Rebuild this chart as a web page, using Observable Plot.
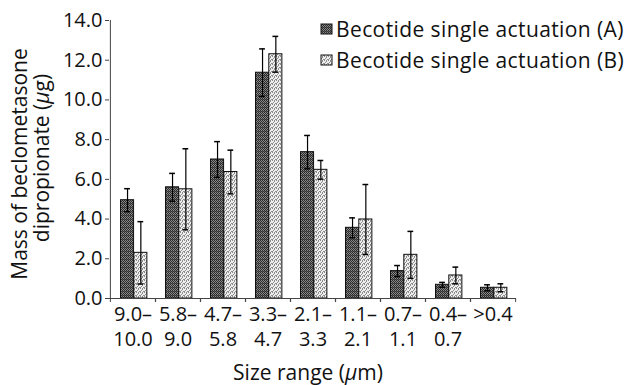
<!DOCTYPE html>
<html>
<head>
<meta charset="utf-8">
<script src="https://cdn.jsdelivr.net/npm/d3@7"></script>
<script src="https://cdn.jsdelivr.net/npm/@observablehq/plot@0.6"></script>
<style>
  html, body { margin: 0; padding: 0; background: #fff; }
  #chart { position: relative; width: 624px; height: 385px; font-family: "Open Sans", sans-serif; }
</style>
</head>
<body>
<div id="chart"></div>
<script>
// ---- data ----
const groups = ["9.0–10.0", "5.8–9.0", "4.7–5.8", "3.3–4.7", "2.1–3.3", "1.1–2.1", "0.7–1.1", "0.4–0.7", ">0.4"];
const tickTop = ["9.0–", "5.8–", "4.7–", "3.3–", "2.1–", "1.1–", "0.7–", "0.4–", ">0.4"];
const tickBottom = ["10.0", "9.0", "5.8", "4.7", "3.3", "2.1", "1.1", "0.7", ""];
const seriesNames = ["Becotide single actuation (A)", "Becotide single actuation (B)"];
const valuesA = [4.95, 5.6, 7.0, 11.37, 7.37, 3.56, 1.38, 0.69, 0.54];
const errA    = [0.58, 0.7, 0.9, 1.2, 0.84, 0.5, 0.28, 0.12, 0.15];
const valuesB = [2.3, 5.5, 6.37, 12.3, 6.48, 3.98, 2.2, 1.16, 0.54];
const errB    = [1.57, 2.04, 1.1, 0.9, 0.47, 1.76, 1.18, 0.42, 0.2];
const yTicks = [0, 2, 4, 6, 8, 10, 12, 14];

// ---- layout ----
const W = 624, H = 385;
const mL = 109, mR = 108, mT = 20, mB = 87;
const bw = (W - mL - mR) / groups.length;   // band width
const barW = 13.3, offA = 10.5;              // bar width and left offset within band
const cap = 3;

const dataA = groups.map((g, i) => ({group: g, v: valuesA[i], e: errA[i]}));
const dataB = groups.map((g, i) => ({group: g, v: valuesB[i], e: errB[i]}));

const dxA = offA + barW / 2 - bw / 2;
const dxB = offA + barW * 1.5 - bw / 2;

function errMarks(data, dx) {
  return [
    Plot.ruleX(data, {x: "group", y1: d => d.v - d.e, y2: d => d.v + d.e, dx, stroke: "black", strokeWidth: 1.2}),
    Plot.tickY(data, {x: "group", y: d => d.v + d.e, dx, insetLeft: bw / 2 - cap, insetRight: bw / 2 - cap, stroke: "black", strokeWidth: 1.5}),
    Plot.tickY(data, {x: "group", y: d => d.v - d.e, dx, insetLeft: bw / 2 - cap, insetRight: bw / 2 - cap, stroke: "black", strokeWidth: 1.5})
  ];
}

const labelMap = new Map(groups.map((g, i) => [g, tickBottom[i] ? tickTop[i] + "\n" + tickBottom[i] : tickTop[i]]));

const svg = Plot.plot({
  width: W, height: H,
  marginLeft: mL, marginRight: mR, marginTop: mT, marginBottom: mB,
  style: {fontFamily: "Open Sans", fontSize: "20px", color: "#111", background: "white"},
  x: {domain: groups, padding: 0, axis: null},
  y: {domain: [0, 14], axis: null},
  marks: [
    Plot.barY(dataA, {x: "group", y: "v", fill: "url(#patA)", stroke: "#111", strokeWidth: 1,
      insetLeft: offA, insetRight: bw - offA - barW}),
    Plot.barY(dataB, {x: "group", y: "v", fill: "url(#patB)", stroke: "#111", strokeWidth: 1,
      insetLeft: offA + barW, insetRight: bw - offA - 2 * barW}),
    ...errMarks(dataA, dxA),
    ...errMarks(dataB, dxB),
    Plot.ruleY([0], {stroke: "#444", strokeWidth: 1}),
    Plot.ruleX([groups[0]], {x: d => d, dx: -bw / 2, stroke: "#444", strokeWidth: 1}),
    Plot.axisY({ticks: yTicks, tickFormat: d => d.toFixed(1), tickSize: 4, tickPadding: 3, fontSize: 20, label: null, stroke: "#444"}),
    Plot.axisX({ticks: groups, tickFormat: () => "", tickSize: 4, dx: -bw / 2, label: null, stroke: "#444"}),
    Plot.axisX({ticks: groups, tickFormat: () => "", tickSize: 4, dx: bw / 2, label: null, stroke: "#444"}),
    Plot.axisX({ticks: groups, tickFormat: d => labelMap.get(d), tickSize: 0, tickPadding: 4, lineHeight: 1.275, fontSize: 20, label: null})
  ]
});

const s = d3.select(svg);
const defs = s.insert("defs", ":first-child");
// dark texture for series A
const pA = defs.append("pattern").attr("id", "patA").attr("patternUnits", "userSpaceOnUse").attr("width", 4).attr("height", 4);
pA.append("rect").attr("width", 4).attr("height", 4).attr("fill", "#8a8a8a");
[[0,0],[2,0],[1,1],[3,1],[0,2],[2,2],[1,3],[3,3]].forEach(([x, y]) => pA.append("rect").attr("x", x).attr("y", y).attr("width", 1).attr("height", 1).attr("fill", "#2a2a2a"));
pA.append("rect").attr("x", 0).attr("y", 3).attr("width", 4).attr("height", 0.6).attr("fill", "#333");
// light texture for series B
const pB = defs.append("pattern").attr("id", "patB").attr("patternUnits", "userSpaceOnUse").attr("width", 4).attr("height", 4);
pB.append("rect").attr("width", 4).attr("height", 4).attr("fill", "#eeeeee");
[[0,0],[2,1],[1,2],[3,3],[2,0],[0,3]].forEach(([x, y]) => pB.append("rect").attr("x", x).attr("y", y).attr("width", 1).attr("height", 1).attr("fill", "#8c8c8c"));

// axis labels
const font = "Open Sans";
s.append("text").attr("transform", "translate(27,164) rotate(-90)").attr("text-anchor", "middle")
  .attr("font-family", font).attr("font-size", 21).attr("fill", "#111").text("Mass of beclometasone");
const yl2 = s.append("text").attr("transform", "translate(49,158) rotate(-90)").attr("text-anchor", "middle")
  .attr("font-family", font).attr("font-size", 21).attr("fill", "#111");
yl2.append("tspan").text("dipropionate (");
yl2.append("tspan").attr("font-style", "italic").text("μ");
yl2.append("tspan").text("g)");
const xl = s.append("text").attr("x", 308).attr("y", 380).attr("text-anchor", "middle")
  .attr("font-family", font).attr("font-size", 21).attr("fill", "#111");
xl.append("tspan").text("Size range (");
xl.append("tspan").attr("font-style", "italic").text("μ");
xl.append("tspan").text("m)");

// legend
const leg = s.append("g").attr("text-anchor", "start");
["patA", "patB"].forEach((p, i) => {
  const y = 24 + i * 31;
  leg.append("rect").attr("x", 321).attr("y", y).attr("width", 11).attr("height", 10)
    .attr("fill", `url(#${p})`).attr("stroke", "#111").attr("stroke-width", 1);
  leg.append("text").attr("x", 336).attr("y", y + 13).attr("text-anchor", "start").attr("font-family", font).attr("font-size", 21)
    .attr("letter-spacing", 0.4).attr("fill", "#111").text(seriesNames[i]);
});

document.getElementById("chart").appendChild(svg);
</script>
</body>
</html>
